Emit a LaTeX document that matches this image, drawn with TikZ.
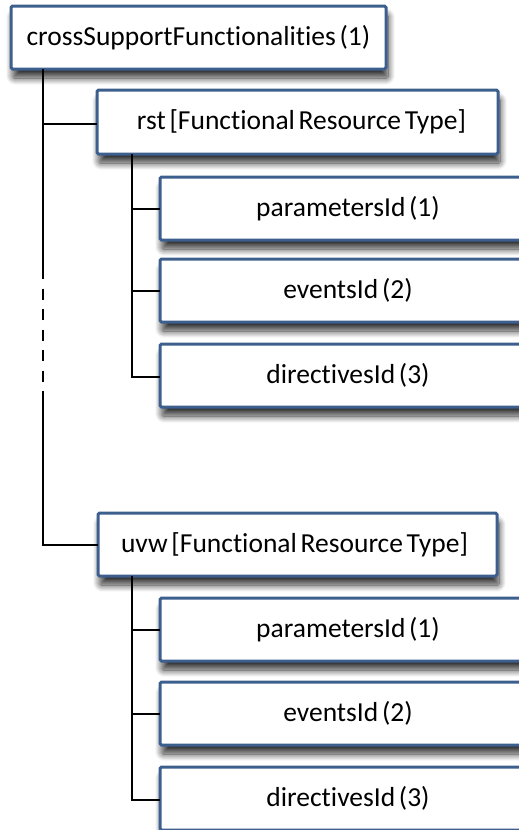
\documentclass[tikz,border=0pt]{standalone}
\usepackage{fontspec}
\setmainfont[WordSpace=0.6,Ligatures=NoCommon]{Carlito}
\usetikzlibrary{shadows.blur,calc}

\definecolor{boxblue}{RGB}{61,95,142}

\tikzset{
  box/.style={
    draw=boxblue, line width=3pt, fill=white, rounded corners=1.5pt,
    anchor=north west, inner sep=0pt, outer sep=0pt,
    font=\fontsize{27.5}{32}\selectfont,
    blur shadow={shadow xshift=2pt, shadow yshift=-9pt,
                 shadow blur radius=7pt, shadow blur steps=14,
                 shadow opacity=80}
  },
  childbox/.style={box, minimum width=376pt, minimum height=63pt},
  conn/.style={draw=black, line width=2pt},
  gapline/.style={conn, dash pattern=on 11pt off 9.5pt}
}

\begin{document}
\begin{tikzpicture}[x=1pt, y=-1pt]
  \useasboundingbox (0,0) rectangle (519,830);
  \clip (0,0) rectangle (519,830);

  % root
  \node[box, minimum width=375pt, minimum height=63pt] (root) at (11,6)
    {crossSupportFunctionalities (1)};

  % first functional resource type and its ids
  \node[box, minimum width=401pt, minimum height=64pt] (rst) at (97,90)
    {\hspace{8pt}rst [Functional Resource Type]};
  \node[childbox] (p1) at (160,177) {parametersId (1)};
  \node[childbox] (e1) at (160,259) {eventsId (2)};
  \node[childbox] (d1) at (160,344) {directivesId (3)};

  % second functional resource type and its ids
  \node[box, minimum width=399pt, minimum height=63pt] (uvw) at (98,513)
    {\hspace{-6pt}uvw [Functional Resource Type]};
  \node[childbox] (p2) at (160,598) {parametersId (1)};
  \node[childbox] (e2) at (160,682) {eventsId (2)};
  \node[childbox] (d2) at (160,767) {directivesId (3)};

  % main trunk, interrupted by a dashed stretch
  \coordinate (trunkA) at ($(root.south west)+(32,199)$);
  \coordinate (trunkB) at ($(root.south west)+(32,333)$);
  \draw[conn] ([xshift=32pt]root.south west) -- (trunkA);
  \draw[gapline] (trunkA) -- (trunkB);
  \draw[conn] (trunkB) |- (uvw.west);
  \draw[conn] ([xshift=32pt]root.south west) |- ([yshift=-2pt]rst.west);

  % branches under rst
  \draw[conn] ([xshift=35pt]rst.south west) |- ([yshift=-1pt]d1.west);
  \draw[conn] ([xshift=35pt]rst.south west) |- (p1.west);
  \draw[conn] ([xshift=35pt]rst.south west) |- (e1.west);

  % branches under uvw
  \draw[conn] ([xshift=34pt]uvw.south west) |- ([yshift=-1pt]d2.west);
  \draw[conn] ([xshift=34pt]uvw.south west) |- (p2.west);
  \draw[conn] ([xshift=34pt]uvw.south west) |- (e2.west);
\end{tikzpicture}
\end{document}
